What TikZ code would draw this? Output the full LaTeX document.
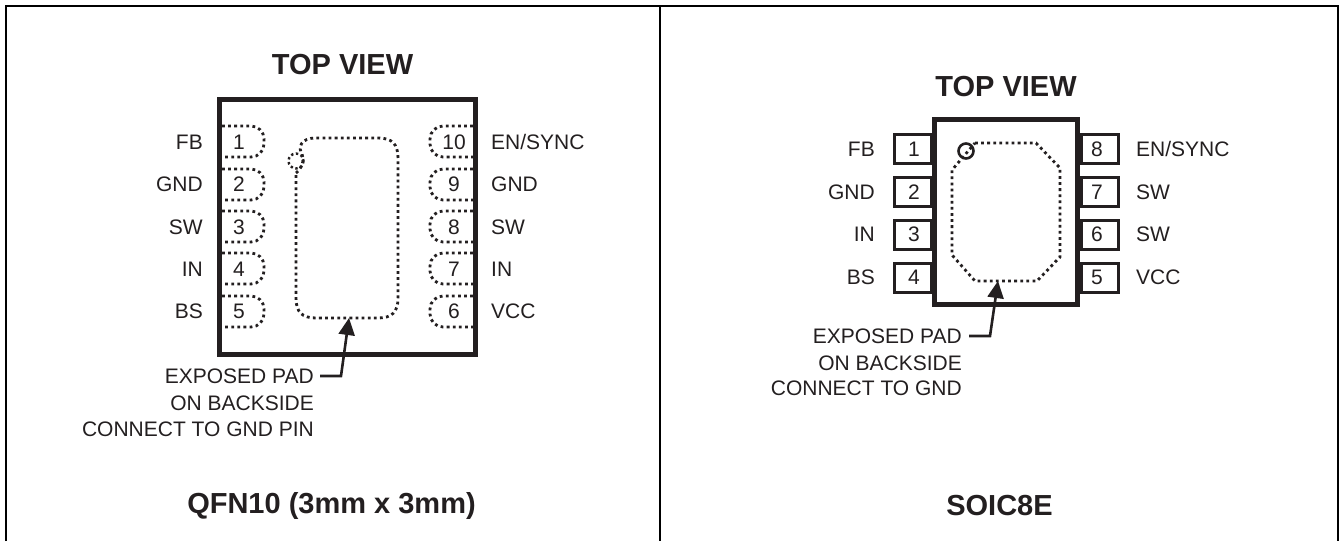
\documentclass[tikz,border=0pt]{standalone}
\usepackage{fontspec}
\setmainfont{Liberation Sans}
\usetikzlibrary{arrows.meta}
\definecolor{ink}{HTML}{231F20}
\begin{document}
\begin{tikzpicture}[x=1pt,y=-1pt,
	label/.style={inner sep=0pt,text=ink,font=\fontsize{21}{25}\selectfont},
	title/.style={inner sep=0pt,text=ink,font=\fontsize{29}{33}\selectfont\bfseries},
	pinbox/.style={draw=ink,line width=3pt,fill=white,minimum width=37pt,minimum height=29pt,inner sep=0pt},
	body/.style={draw=ink,line width=5pt,fill=white},
	padline/.style={draw=ink,line width=2.8pt,dash pattern=on 2.8pt off 3.3pt},
	leadpad/.style={padline,rounded corners=13pt},
	pointer/.style={draw=ink,line width=2.6pt,-{Stealth[length=17pt,width=16pt,inset=0pt]}}]

	\useasboundingbox (0,0) rectangle (1339,541);
	\draw[black,line width=2.5pt] (6,541) -- (6,6) -- (1338,6) -- (1338,541);
	\draw[black,line width=2.5pt] (660,6) -- (660,541);

	% QFN10
	\node[title] (topL) at (342.5,65) {TOP VIEW};
	\draw[body] (219.5,99.5) rectangle (475,354);

	\draw[leadpad] (222,126) -- (264,126) -- (264,157) -- (222,157);
	\draw[leadpad] (222,169) -- (264,169) -- (264,200) -- (222,200);
	\draw[leadpad] (222,211) -- (264,211) -- (264,242) -- (222,242);
	\draw[leadpad] (222,253) -- (264,253) -- (264,284) -- (222,284);
	\draw[leadpad] (222,296) -- (264,296) -- (264,327) -- (222,327);
	\draw[leadpad] (473,126) -- (430,126) -- (430,157) -- (473,157);
	\draw[leadpad] (473,169) -- (430,169) -- (430,200) -- (473,200);
	\draw[leadpad] (473,211) -- (430,211) -- (430,242) -- (473,242);
	\draw[leadpad] (473,253) -- (430,253) -- (430,284) -- (473,284);
	\draw[leadpad] (473,296) -- (430,296) -- (430,327) -- (473,327);

	\draw[padline] (296,173) .. controls (302,168) and (305,160) .. (302,154) .. controls (298,148) and (300,138) .. (316,138)
		-- (378,138) .. controls (392,138) and (398,144) .. (398,158) -- (398,298)
		.. controls (398,312) and (392,318) .. (378,318) -- (316,318) .. controls (302,318) and (296,312) .. (296,298) -- cycle;
	\draw[draw=ink,line width=2.4pt,dash pattern=on 2.4pt off 2.6pt] (296,161) circle[radius=7.5];

	\node[label] (numA) at (239,142) {1};
	\node[label] (numB) at (239,184) {2};
	\node[label] (numC) at (239,227) {3};
	\node[label] (numD) at (239,269) {4};
	\node[label] (numE) at (239,311) {5};
	\node[label] (numF) at (454,311) {6};
	\node[label] (numG) at (454,269) {7};
	\node[label] (numH) at (454,227) {8};
	\node[label] (numI) at (454,184) {9};
	\node[label] (numJ) at (454,142) {10};

	\node[label,anchor=east] (fbL) at (203,142) {FB};
	\node[label,anchor=east] (gndL) at (203,184) {GND};
	\node[label,anchor=east] (swL) at (203,227) {SW};
	\node[label,anchor=east] (inL) at (203,269) {IN};
	\node[label,anchor=east] (bsL) at (203,311) {BS};
	\node[label,anchor=west] (enL) at (491,142) {EN/SYNC};
	\node[label,anchor=west] (gndLb) at (491,184) {GND};
	\node[label,anchor=west] (swLa) at (491,227) {SW};
	\node[label,anchor=west] (inLb) at (491,269) {IN};
	\node[label,anchor=west] (vccL) at (491,311) {VCC};

	\node[label,anchor=east] (noteLa) at (314,376) {EXPOSED PAD};
	\node[label,anchor=east] (noteLb) at (314,403) {ON BACKSIDE};
	\node[label,anchor=east] (noteLc) at (314,429) {CONNECT TO GND PIN};
	\coordinate (startL) at (320,376);
	\coordinate (tipL) at (349,318);
	\draw[pointer] (startL) -- (341,376) -- (tipL);
	\node[title] (nameL) at (331.5,506) {QFN10 (3mm x 3mm)};

	% SOIC8E
	\node[title] (topR) at (1006,86.5) {TOP VIEW};

	\node[pinbox,anchor=east] (pinA) at (932.5,149) {};
	\node[pinbox,anchor=east] (pinB) at (932.5,192) {};
	\node[pinbox,anchor=east] (pinC) at (932.5,234.5) {};
	\node[pinbox,anchor=east] (pinD) at (932.5,277.5) {};
	\node[pinbox,anchor=west] (pinE) at (1079.5,277.5) {};
	\node[pinbox,anchor=west] (pinF) at (1079.5,234.5) {};
	\node[pinbox,anchor=west] (pinG) at (1079.5,192) {};
	\node[pinbox,anchor=west] (pinH) at (1079.5,149) {};
	\draw[body] (934.5,119.5) rectangle (1077.5,304.5);

	\node[label] at (914,149) (numK) {1};
	\node[label] at (914,192) (numL) {2};
	\node[label] at (914,234.5) (numM) {3};
	\node[label] at (914,277.5) (numN) {4};
	\node[label] at (1097,277.5) (numO) {5};
	\node[label] at (1097,234.5) (numP) {6};
	\node[label] at (1097,192) (numQ) {7};
	\node[label] at (1097,149) (numR) {8};

	\draw[padline] (975,143) -- (1036,143) -- (1060,168) -- (1060,257) -- (1037,281) -- (975,281) -- (952,255) -- (952,170) -- cycle;
	\draw[draw=ink,line width=2.6pt] (966,151) circle[radius=7.5];

	\node[label,anchor=east] (fbR) at (875,149) {FB};
	\node[label,anchor=east] (gndR) at (875,192) {GND};
	\node[label,anchor=east] (inR) at (875,234.5) {IN};
	\node[label,anchor=east] (bsR) at (875,277.5) {BS};
	\node[label,anchor=west] (enR) at (1136,149) {EN/SYNC};
	\node[label,anchor=west] (swRa) at (1136,192) {SW};
	\node[label,anchor=west] (swRb) at (1136,234.5) {SW};
	\node[label,anchor=west] (vccR) at (1136,277.5) {VCC};

	\node[label,anchor=east] (noteRa) at (962,336) {EXPOSED PAD};
	\node[label,anchor=east] (noteRb) at (962,363) {ON BACKSIDE};
	\node[label,anchor=east] (noteRc) at (962,388) {CONNECT TO GND};
	\coordinate (startR) at (969,336);
	\coordinate (tipR) at (998,281);
	\draw[pointer] (startR) -- (990,336) -- (tipR);
	\node[title] (nameR) at (999.5,506) {SOIC8E};

\end{tikzpicture}
\end{document}
